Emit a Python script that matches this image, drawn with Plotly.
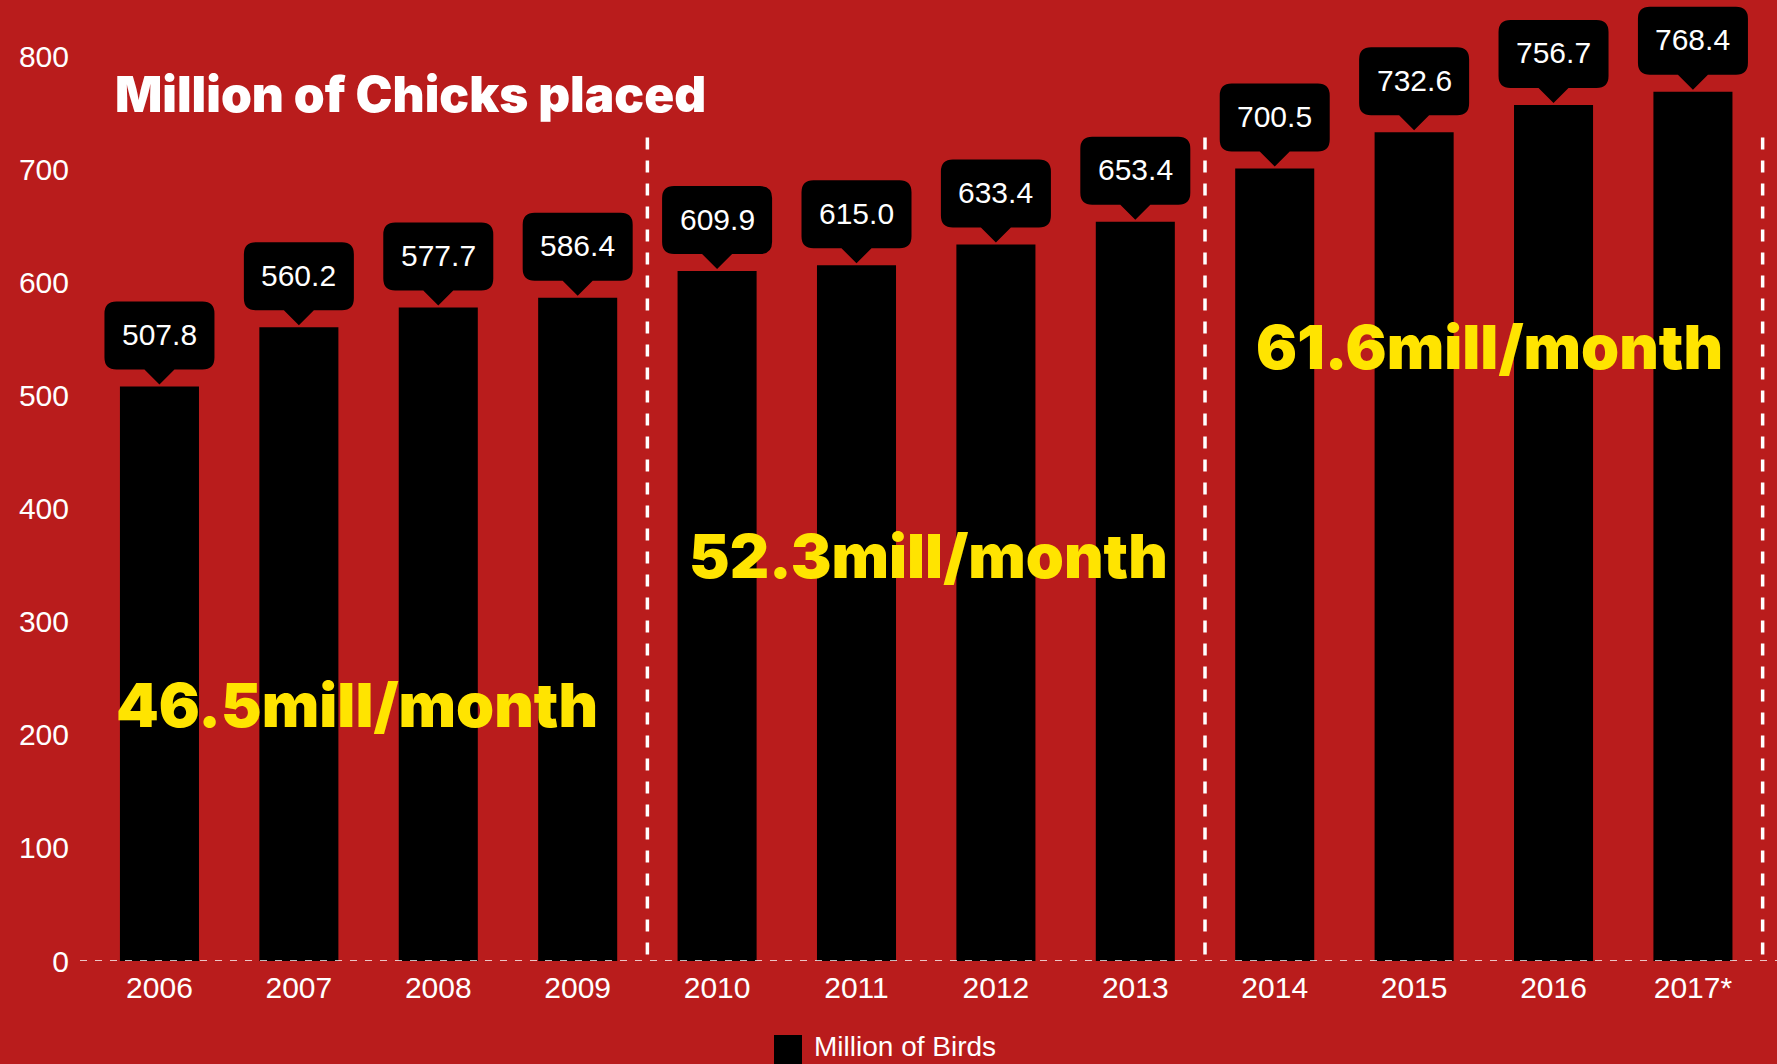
import plotly.graph_objects as go

# ---- data ----
years = ["2006", "2007", "2008", "2009", "2010", "2011", "2012", "2013",
         "2014", "2015", "2016", "2017*"]
birds = [507.8, 560.2, 577.7, 586.4, 609.9, 615.0, 633.4, 653.4,
         700.5, 732.6, 756.7, 768.4]
y_ticks = [0, 100, 200, 300, 400, 500, 600, 700, 800]
period_labels = ["46.5mill/month", "52.3mill/month", "61.6mill/month"]
period_label_x = [1.42, 5.52, 9.54]
period_label_y = [226, 358, 543]
period_breaks = [3.5, 7.5, 11.5]
series_name = "Million of Birds"
title_text = "Million of Chicks placed"

# ---- style ----
BG = "#B91C1C"
YELLOW = "#FFE400"
WHITE = "#FFFFFF"
TICK_FONT = "Liberation Sans, Arial, Helvetica, sans-serif"
BOLD_FONT = "Inter, Lato, Roboto, sans-serif"

W, H = 1777, 1064
ML, MR, MT, MB = 80, 0, 0, 103

xpos = list(range(len(years)))

fig = go.Figure()
fig.add_trace(go.Bar(
    x=xpos, y=birds, name=series_name,
    marker=dict(color="#000000", line=dict(width=0)),
    width=0.567, showlegend=False, hoverinfo="x+y",
))

shapes = []
annotations = []

# callouts (rounded box with pointer) anchored at each bar top
callout_path = ("M -43,17 L -15,17 L 0,2 L 15,17 L 43,17 Q 55,17 55,29 "
                "L 55,73 Q 55,85 43,85 L -43,85 Q -55,85 -55,73 "
                "L -55,29 Q -55,17 -43,17 Z")
for xi, v in zip(xpos, birds):
    shapes.append(dict(
        type="path", xref="x", yref="y",
        xsizemode="pixel", ysizemode="pixel",
        xanchor=xi, yanchor=v, path=callout_path,
        fillcolor="#000000", line=dict(width=0), layer="above",
    ))
    annotations.append(dict(
        x=xi, y=v, xref="x", yref="y", text=f"{v:.1f}",
        showarrow=False, yshift=52, xanchor="center", yanchor="middle",
        font=dict(family=TICK_FONT, size=30, color=WHITE),
    ))

# baseline dashed line
shapes.append(dict(
    type="line", xref="paper", yref="y", x0=0, x1=1, y0=0, y1=0,
    line=dict(color="rgba(255,255,255,0.75)", width=2, dash="7px,8px"),
    layer="above",
))
# vertical period separators (drawn top-down so the dash pattern starts at the top)
for xb in period_breaks:
    shapes.append(dict(
        type="line", xref="x", yref="paper", x0=xb, x1=xb, y0=0.857, y1=0,
        line=dict(color=WHITE, width=3.5, dash="12px,11px"), layer="above",
    ))

# period labels
for txt, xx, yy in zip(period_labels, period_label_x, period_label_y):
    annotations.append(dict(
        x=xx, y=yy, xref="x", yref="y", text=txt, showarrow=False,
        xanchor="center", yanchor="middle",
        font=dict(family=BOLD_FONT, size=61, color=YELLOW, weight=900),
    ))

# title
annotations.append(dict(
    x=(113 - ML) / (W - ML - MR), y=0.902, xref="paper", yref="paper",
    text=title_text, showarrow=False, xanchor="left", yanchor="middle",
    font=dict(family=BOLD_FONT, size=49.5, color=WHITE, weight=900),
))

# legend (manual)
pw = W - ML - MR
ph = H - MT - MB
shapes.append(dict(
    type="rect", xref="paper", yref="paper",
    x0=(774 - ML) / pw, x1=(802 - ML) / pw,
    y0=(ph - 1035) / ph, y1=(ph - 1066) / ph,
    fillcolor="#000000", line=dict(width=0),
))
annotations.append(dict(
    x=(812 - ML) / pw, y=(ph - 1046) / ph, xref="paper", yref="paper",
    text=series_name, showarrow=False, xanchor="left", yanchor="middle",
    font=dict(family=TICK_FONT, size=28, color=WHITE),
))

fig.update_layout(
    width=W, height=H,
    margin=dict(l=ML, r=MR, t=MT, b=MB, pad=0),
    paper_bgcolor=BG, plot_bgcolor=BG,
    showlegend=False, bargap=0.43,
    shapes=shapes, annotations=annotations,
    xaxis=dict(
        range=[-0.57, 11.603], tickvals=xpos, ticktext=years,
        showgrid=False, zeroline=False, showline=False, ticks="",
        tickfont=dict(family=TICK_FONT, size=30, color=WHITE),
        ticklabelstandoff=6, fixedrange=True,
    ),
    yaxis=dict(
        range=[0, 849.5], tickvals=y_ticks,
        showgrid=False, zeroline=False, showline=False, ticks="",
        tickfont=dict(family=TICK_FONT, size=30, color=WHITE),
        ticklabelstandoff=10, fixedrange=True,
    ),
)

fig.write_html(
    "out.html",
    config={"displayModeBar": False},
    post_script="document.body.style.margin='0';document.body.style.padding='0';"
                "document.body.style.overflow='hidden';",
)
